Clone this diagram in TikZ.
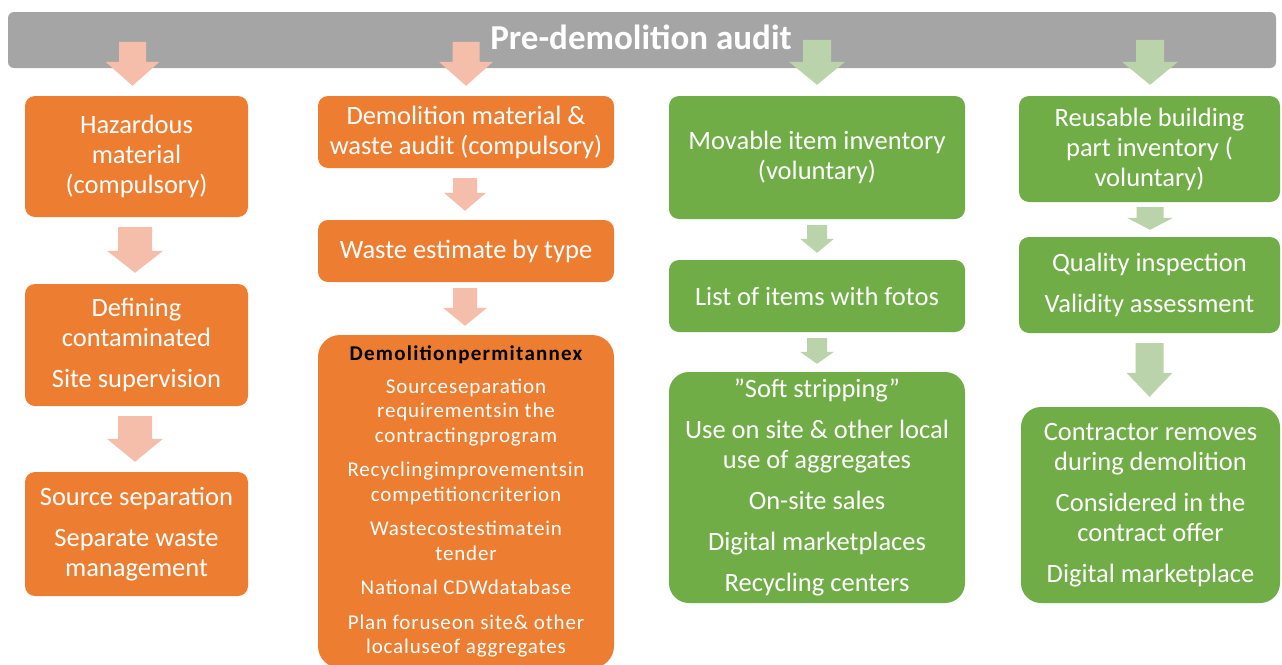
\documentclass[tikz,border=0pt]{standalone}
\usepackage{fontspec}
\setmainfont{Carlito}
\usetikzlibrary{calc}
\definecolor{orng}{HTML}{ED7D31}
\definecolor{grn}{HTML}{70AD47}
\definecolor{lorng}{HTML}{F5BEAA}
\definecolor{lgrn}{HTML}{BBD3AB}
\definecolor{barg}{HTML}{A5A5A5}
\newcommand\blockarrow[6]{%
  \fill[#1] let \p1=(#2), \p2=(#3) in
    (\x1-#4pt,\y1) -- (\x1+#4pt,\y1) -- (\x1+#4pt,\y2+#6pt) -- (\x1+#5pt,\y2+#6pt)
    -- (\x1,\y2) -- (\x1-#5pt,\y2+#6pt) -- (\x1-#4pt,\y2+#6pt) -- cycle;}
\begin{document}
\begin{tikzpicture}[x=1pt,y=-1pt,
  box/.style={rounded corners=10pt, text=white, align=center, inner sep=0pt,
    font=\fontsize{26.5}{30}\selectfont},
  obox/.style={box, fill=orng},
  gbox/.style={box, fill=grn},
  annexfont/.style={font=\fontsize{21}{24.5}\selectfont\addfontfeature{LetterSpace=4}},
  titlefont/.style={text=white, inner sep=0pt, font=\fontsize{35}{40}\selectfont\bfseries}]
\useasboundingbox (0,0) rectangle (1282,664);
\fill[white] (0,0) rectangle (1282,664);
\begin{scope}
\clip (0,0) rectangle (1282,664);
% top bar
\node[fill=barg, rounded corners=6pt, minimum width=1268pt, minimum height=56pt, inner sep=0pt] (bar) at (642,40) {};
% column 1
\node[obox, minimum width=223pt, minimum height=121pt] (c1b1) at (136.5,156.5) {Hazardous\\material\\(compulsory)};
\node[obox, minimum width=223pt, minimum height=122pt] (c1b2) at (136.5,345) {Defining\\contaminated\\[11pt]Site supervision};
\node[obox, minimum width=223pt, minimum height=124pt] (c1b3) at (136.5,534) {Source separation\\[11pt]Separate waste\\management};
% column 2
\node[obox, minimum width=296pt, minimum height=72pt] (c2b1) at (466,132) {Demolition material \&\\waste audit (compulsory)};
\node[obox, minimum width=296pt, minimum height=62pt] (c2b2) at (466,251) {Waste estimate by type};
\node[obox, rounded corners=22pt, minimum width=296pt, minimum height=333pt, annexfont] (c2b3) at (466,501.5)
  {{\bfseries\addfontfeature{LetterSpace=6}\color{black}Demolitionpermitannex}\\[8.5pt]
   Sourceseparation\\requirementsin the\\contractingprogram\\[10pt]
   Recyclingimprovementsin\\competitioncriterion\\[10pt]
   Wastecostestimatein\\tender\\[10pt]
   National CDWdatabase\\[10pt]
   Plan foruseon site\& other\\localuseof aggregates};
% column 3
\node[gbox, minimum width=296pt, minimum height=123pt] (c3b1) at (817,157.5) {Movable item inventory\\(voluntary)};
\node[gbox, minimum width=296pt, minimum height=72pt] (c3b2) at (817,296) {List of items with fotos};
\node[gbox, rounded corners=20pt, minimum width=296pt, minimum height=231pt] (c3b3) at (817,487.5)
  {”Soft stripping”\\[11pt]Use on site \& other local\\use of aggregates\\[11pt]On-site sales\\[11pt]Digital marketplaces\\[11pt]Recycling centers};
% column 4
\node[gbox, minimum width=261pt, minimum height=106pt] (c4b1) at (1149.5,149) {Reusable building\\part inventory (\\voluntary)};
\node[gbox, minimum width=261pt, minimum height=96pt] (c4b2) at (1149.5,285) {Quality inspection\\[11pt]Validity assessment};
\node[gbox, rounded corners=20pt, minimum width=259pt, minimum height=196pt] (c4b3) at (1150.5,505)
  {Contractor removes\\during demolition\\[11pt]Considered in the\\contract offer\\[11pt]Digital marketplace};
% arrows column 1
\blockarrow{lorng}{$(c1b1.north)+(-4,-54)$}{$(c1b1.north)+(-4,-10)$}{13.5}{27}{24}
\blockarrow{lorng}{$(c1b1.south)+(-1.5,10)$}{$(c1b2.north)+(-1.5,-11)$}{17}{28}{22}
\blockarrow{lorng}{$(c1b2.south)+(-1.5,10)$}{$(c1b3.north)+(-1.5,-10)$}{17}{28}{23}
% arrows column 2
\blockarrow{lorng}{$(c2b1.north)+(0,-54)$}{$(c2b1.north)+(0,-10)$}{13.5}{27}{24}
\blockarrow{lorng}{$(c2b1.south)+(-1,10)$}{$(c2b2.north)+(-1,-9)$}{12}{21}{18}
\blockarrow{lorng}{$(c2b2.south)+(-1,6)$}{$(c2b3.north)+(-1,-9)$}{12}{22}{18}
% arrows column 3
\blockarrow{lgrn}{$(c3b1.north)+(0,-56)$}{$(c3b1.north)+(0,-11)$}{14}{28}{23}
\blockarrow{lgrn}{$(c3b1.south)+(0,6)$}{$(c3b2.north)+(0,-7)$}{10}{17}{14}
\blockarrow{lgrn}{$(c3b2.south)+(0,6)$}{$(c3b3.north)+(0,-8)$}{10}{17}{12}
% arrows column 4
\blockarrow{lgrn}{$(c4b1.north)+(0.5,-56)$}{$(c4b1.north)+(0.5,-11)$}{14}{28}{23}
\blockarrow{lgrn}{$(c4b1.south)+(0.5,5)$}{$(c4b2.north)+(0.5,-7)$}{13.5}{23}{12}
\blockarrow{lgrn}{$(c4b2.south)+(0,10)$}{$(c4b3.north)+(0,-10)$}{14}{23}{24}
% title
\node[titlefont] (ttl) at (641,37) {Pre-demolition audit};
\end{scope}
\end{tikzpicture}
\end{document}
